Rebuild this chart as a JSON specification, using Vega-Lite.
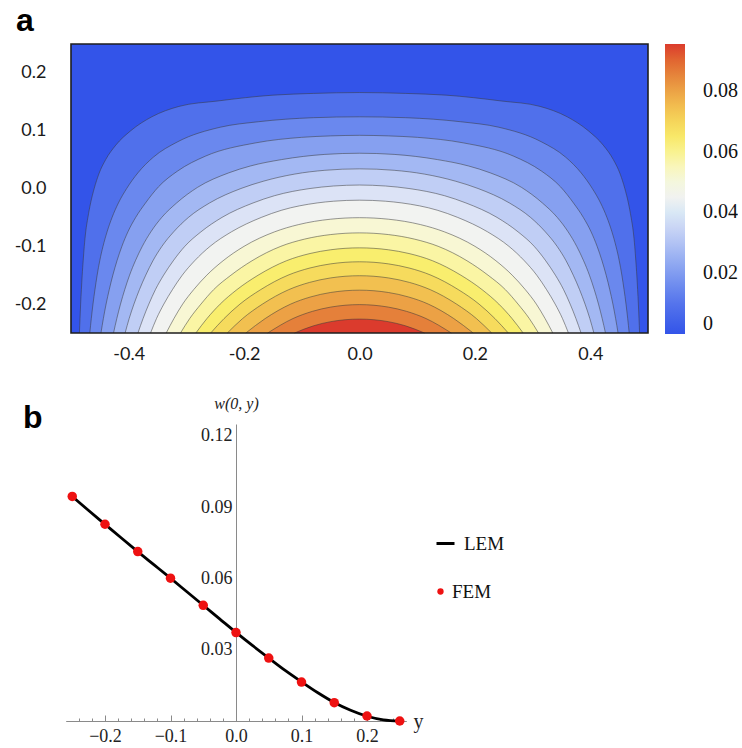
{
"$schema": "https://vega.github.io/schema/vega-lite/v6.json",
"background": "white",
"padding": {"left": 14, "top": 5, "right": 0, "bottom": 0},
"bounds": "flush",
"spacing": 91,
"config": {"view": {"stroke": null}, "axis": {"grid": false}, "legend": {"padding": 0}},
"datasets": {
"contours": [
{"k":1,"x":-0.4854,"y":-0.25},{"k":1,"x":-0.4844,"y":-0.225},{"k":1,"x":-0.4833,"y":-0.2},{"k":1,"x":-0.482,"y":-0.175},{"k":1,"x":-0.4806,"y":-0.15},{"k":1,"x":-0.4789,"y":-0.125},{"k":1,"x":-0.477,"y":-0.1},{"k":1,"x":-0.4745,"y":-0.075},{"k":1,"x":-0.4707,"y":-0.05},{"k":1,"x":-0.466,"y":-0.025},{"k":1,"x":-0.4598,"y":0},{"k":1,"x":-0.4518,"y":0.025},{"k":1,"x":-0.4399,"y":0.05},{"k":1,"x":-0.4224,"y":0.075},{"k":1,"x":-0.3964,"y":0.1},{"k":1,"x":-0.36,"y":0.124},{"k":1,"x":-0.313,"y":0.142},{"k":1,"x":-0.245,"y":0.1515},{"k":1,"x":-0.15,"y":0.1615},{"k":1,"x":-0.08,"y":0.1645},{"k":1,"x":0,"y":0.166},{"k":1,"x":0.08,"y":0.1645},{"k":1,"x":0.15,"y":0.1615},{"k":1,"x":0.245,"y":0.1515},{"k":1,"x":0.313,"y":0.142},{"k":1,"x":0.36,"y":0.124},{"k":1,"x":0.3964,"y":0.1},{"k":1,"x":0.4224,"y":0.075},{"k":1,"x":0.4399,"y":0.05},{"k":1,"x":0.4518,"y":0.025},{"k":1,"x":0.4598,"y":0},{"k":1,"x":0.466,"y":-0.025},{"k":1,"x":0.4707,"y":-0.05},{"k":1,"x":0.4745,"y":-0.075},{"k":1,"x":0.477,"y":-0.1},{"k":1,"x":0.4789,"y":-0.125},{"k":1,"x":0.4806,"y":-0.15},{"k":1,"x":0.482,"y":-0.175},{"k":1,"x":0.4833,"y":-0.2},{"k":1,"x":0.4844,"y":-0.225},{"k":1,"x":0.4854,"y":-0.25},
{"k":2,"x":-0.4674,"y":-0.25},{"k":2,"x":-0.4648,"y":-0.225},{"k":2,"x":-0.4619,"y":-0.2},{"k":2,"x":-0.4585,"y":-0.175},{"k":2,"x":-0.4547,"y":-0.15},{"k":2,"x":-0.4502,"y":-0.125},{"k":2,"x":-0.4445,"y":-0.1},{"k":2,"x":-0.4375,"y":-0.075},{"k":2,"x":-0.4288,"y":-0.05},{"k":2,"x":-0.4178,"y":-0.025},{"k":2,"x":-0.4035,"y":0},{"k":2,"x":-0.3841,"y":0.027},{"k":2,"x":-0.3575,"y":0.054},{"k":2,"x":-0.3148,"y":0.081},{"k":2,"x":-0.2414,"y":0.106},{"k":2,"x":-0.1753,"y":0.1155},{"k":2,"x":-0.08,"y":0.1225},{"k":2,"x":0,"y":0.124},{"k":2,"x":0.08,"y":0.1225},{"k":2,"x":0.1753,"y":0.1155},{"k":2,"x":0.2414,"y":0.106},{"k":2,"x":0.3148,"y":0.081},{"k":2,"x":0.3575,"y":0.054},{"k":2,"x":0.3841,"y":0.027},{"k":2,"x":0.4035,"y":0},{"k":2,"x":0.4178,"y":-0.025},{"k":2,"x":0.4288,"y":-0.05},{"k":2,"x":0.4375,"y":-0.075},{"k":2,"x":0.4445,"y":-0.1},{"k":2,"x":0.4502,"y":-0.125},{"k":2,"x":0.4547,"y":-0.15},{"k":2,"x":0.4585,"y":-0.175},{"k":2,"x":0.4619,"y":-0.2},{"k":2,"x":0.4648,"y":-0.225},{"k":2,"x":0.4674,"y":-0.25},
{"k":3,"x":-0.4481,"y":-0.25},{"k":3,"x":-0.4439,"y":-0.225},{"k":3,"x":-0.4392,"y":-0.2},{"k":3,"x":-0.4337,"y":-0.175},{"k":3,"x":-0.4275,"y":-0.15},{"k":3,"x":-0.4203,"y":-0.125},{"k":3,"x":-0.4118,"y":-0.1},{"k":3,"x":-0.4014,"y":-0.075},{"k":3,"x":-0.3879,"y":-0.05},{"k":3,"x":-0.3708,"y":-0.025},{"k":3,"x":-0.3483,"y":0.003},{"k":3,"x":-0.3156,"y":0.03},{"k":3,"x":-0.267,"y":0.056},{"k":3,"x":-0.1796,"y":0.079},{"k":3,"x":-0.1005,"y":0.0885},{"k":3,"x":-0.05,"y":0.091},{"k":3,"x":0,"y":0.092},{"k":3,"x":0.05,"y":0.091},{"k":3,"x":0.1005,"y":0.0885},{"k":3,"x":0.1796,"y":0.079},{"k":3,"x":0.267,"y":0.056},{"k":3,"x":0.3156,"y":0.03},{"k":3,"x":0.3483,"y":0.003},{"k":3,"x":0.3708,"y":-0.025},{"k":3,"x":0.3879,"y":-0.05},{"k":3,"x":0.4014,"y":-0.075},{"k":3,"x":0.4118,"y":-0.1},{"k":3,"x":0.4203,"y":-0.125},{"k":3,"x":0.4275,"y":-0.15},{"k":3,"x":0.4337,"y":-0.175},{"k":3,"x":0.4392,"y":-0.2},{"k":3,"x":0.4439,"y":-0.225},{"k":3,"x":0.4481,"y":-0.25},
{"k":4,"x":-0.4263,"y":-0.25},{"k":4,"x":-0.4206,"y":-0.225},{"k":4,"x":-0.4142,"y":-0.2},{"k":4,"x":-0.4069,"y":-0.175},{"k":4,"x":-0.3985,"y":-0.15},{"k":4,"x":-0.3884,"y":-0.125},{"k":4,"x":-0.3764,"y":-0.1},{"k":4,"x":-0.3616,"y":-0.075},{"k":4,"x":-0.3427,"y":-0.05},{"k":4,"x":-0.3169,"y":-0.025},{"k":4,"x":-0.2807,"y":0.002},{"k":4,"x":-0.2268,"y":0.027},{"k":4,"x":-0.1889,"y":0.039},{"k":4,"x":-0.1352,"y":0.05},{"k":4,"x":-0.06,"y":0.059},{"k":4,"x":0,"y":0.061},{"k":4,"x":0.06,"y":0.059},{"k":4,"x":0.1352,"y":0.05},{"k":4,"x":0.1889,"y":0.039},{"k":4,"x":0.2268,"y":0.027},{"k":4,"x":0.2807,"y":0.002},{"k":4,"x":0.3169,"y":-0.025},{"k":4,"x":0.3427,"y":-0.05},{"k":4,"x":0.3616,"y":-0.075},{"k":4,"x":0.3764,"y":-0.1},{"k":4,"x":0.3884,"y":-0.125},{"k":4,"x":0.3985,"y":-0.15},{"k":4,"x":0.4069,"y":-0.175},{"k":4,"x":0.4142,"y":-0.2},{"k":4,"x":0.4206,"y":-0.225},{"k":4,"x":0.4263,"y":-0.25},
{"k":5,"x":-0.4062,"y":-0.25},{"k":5,"x":-0.3992,"y":-0.225},{"k":5,"x":-0.3909,"y":-0.2},{"k":5,"x":-0.3814,"y":-0.175},{"k":5,"x":-0.3705,"y":-0.15},{"k":5,"x":-0.358,"y":-0.125},{"k":5,"x":-0.3424,"y":-0.1},{"k":5,"x":-0.3221,"y":-0.075},{"k":5,"x":-0.2964,"y":-0.05},{"k":5,"x":-0.2598,"y":-0.025},{"k":5,"x":-0.2055,"y":0},{"k":5,"x":-0.167,"y":0.0125},{"k":5,"x":-0.1121,"y":0.025},{"k":5,"x":-0.06,"y":0.0315},{"k":5,"x":0,"y":0.034},{"k":5,"x":0.06,"y":0.0315},{"k":5,"x":0.1121,"y":0.025},{"k":5,"x":0.167,"y":0.0125},{"k":5,"x":0.2055,"y":0},{"k":5,"x":0.2598,"y":-0.025},{"k":5,"x":0.2964,"y":-0.05},{"k":5,"x":0.3221,"y":-0.075},{"k":5,"x":0.3424,"y":-0.1},{"k":5,"x":0.358,"y":-0.125},{"k":5,"x":0.3705,"y":-0.15},{"k":5,"x":0.3814,"y":-0.175},{"k":5,"x":0.3909,"y":-0.2},{"k":5,"x":0.3992,"y":-0.225},{"k":5,"x":0.4062,"y":-0.25},
{"k":6,"x":-0.384,"y":-0.25},{"k":6,"x":-0.3751,"y":-0.225},{"k":6,"x":-0.3651,"y":-0.2},{"k":6,"x":-0.3537,"y":-0.175},{"k":6,"x":-0.3395,"y":-0.15},{"k":6,"x":-0.3227,"y":-0.125},{"k":6,"x":-0.3027,"y":-0.1},{"k":6,"x":-0.2748,"y":-0.075},{"k":6,"x":-0.2383,"y":-0.05},{"k":6,"x":-0.1844,"y":-0.025},{"k":6,"x":-0.1475,"y":-0.0125},{"k":6,"x":-0.0857,"y":0},{"k":6,"x":-0.045,"y":0.0043},{"k":6,"x":0,"y":0.006},{"k":6,"x":0.045,"y":0.0043},{"k":6,"x":0.0857,"y":0},{"k":6,"x":0.1475,"y":-0.0125},{"k":6,"x":0.1844,"y":-0.025},{"k":6,"x":0.2383,"y":-0.05},{"k":6,"x":0.2748,"y":-0.075},{"k":6,"x":0.3027,"y":-0.1},{"k":6,"x":0.3227,"y":-0.125},{"k":6,"x":0.3395,"y":-0.15},{"k":6,"x":0.3537,"y":-0.175},{"k":6,"x":0.3651,"y":-0.2},{"k":6,"x":0.3751,"y":-0.225},{"k":6,"x":0.384,"y":-0.25},
{"k":7,"x":-0.3621,"y":-0.25},{"k":7,"x":-0.3518,"y":-0.225},{"k":7,"x":-0.3391,"y":-0.2},{"k":7,"x":-0.3242,"y":-0.175},{"k":7,"x":-0.3072,"y":-0.15},{"k":7,"x":-0.2857,"y":-0.125},{"k":7,"x":-0.2589,"y":-0.1},{"k":7,"x":-0.222,"y":-0.075},{"k":7,"x":-0.1701,"y":-0.05},{"k":7,"x":-0.1347,"y":-0.0375},{"k":7,"x":-0.0734,"y":-0.025},{"k":7,"x":-0.045,"y":-0.022},{"k":7,"x":0,"y":-0.0202},{"k":7,"x":0.045,"y":-0.022},{"k":7,"x":0.0734,"y":-0.025},{"k":7,"x":0.1347,"y":-0.0375},{"k":7,"x":0.1701,"y":-0.05},{"k":7,"x":0.222,"y":-0.075},{"k":7,"x":0.2589,"y":-0.1},{"k":7,"x":0.2857,"y":-0.125},{"k":7,"x":0.3072,"y":-0.15},{"k":7,"x":0.3242,"y":-0.175},{"k":7,"x":0.3391,"y":-0.2},{"k":7,"x":0.3518,"y":-0.225},{"k":7,"x":0.3621,"y":-0.25},
{"k":8,"x":-0.335,"y":-0.25},{"k":8,"x":-0.3216,"y":-0.225},{"k":8,"x":-0.3065,"y":-0.2},{"k":8,"x":-0.2874,"y":-0.175},{"k":8,"x":-0.2647,"y":-0.15},{"k":8,"x":-0.2364,"y":-0.125},{"k":8,"x":-0.2,"y":-0.1},{"k":8,"x":-0.1472,"y":-0.075},{"k":8,"x":-0.1059,"y":-0.0625},{"k":8,"x":-0.05,"y":-0.0531},{"k":8,"x":0,"y":-0.0505},{"k":8,"x":0.05,"y":-0.0531},{"k":8,"x":0.1059,"y":-0.0625},{"k":8,"x":0.1472,"y":-0.075},{"k":8,"x":0.2,"y":-0.1},{"k":8,"x":0.2364,"y":-0.125},{"k":8,"x":0.2647,"y":-0.15},{"k":8,"x":0.2874,"y":-0.175},{"k":8,"x":0.3065,"y":-0.2},{"k":8,"x":0.3216,"y":-0.225},{"k":8,"x":0.335,"y":-0.25},
{"k":9,"x":-0.3102,"y":-0.25},{"k":9,"x":-0.2943,"y":-0.225},{"k":9,"x":-0.2748,"y":-0.2},{"k":9,"x":-0.2528,"y":-0.175},{"k":9,"x":-0.2228,"y":-0.15},{"k":9,"x":-0.1863,"y":-0.125},{"k":9,"x":-0.1363,"y":-0.1},{"k":9,"x":-0.0949,"y":-0.0875},{"k":9,"x":-0.05,"y":-0.0797},{"k":9,"x":0,"y":-0.0768},{"k":9,"x":0.05,"y":-0.0797},{"k":9,"x":0.0949,"y":-0.0875},{"k":9,"x":0.1363,"y":-0.1},{"k":9,"x":0.1863,"y":-0.125},{"k":9,"x":0.2228,"y":-0.15},{"k":9,"x":0.2528,"y":-0.175},{"k":9,"x":0.2748,"y":-0.2},{"k":9,"x":0.2943,"y":-0.225},{"k":9,"x":0.3102,"y":-0.25},
{"k":10,"x":-0.2836,"y":-0.25},{"k":10,"x":-0.2644,"y":-0.225},{"k":10,"x":-0.2415,"y":-0.2},{"k":10,"x":-0.2125,"y":-0.175},{"k":10,"x":-0.1757,"y":-0.15},{"k":10,"x":-0.1266,"y":-0.125},{"k":10,"x":-0.0858,"y":-0.1125},{"k":10,"x":-0.05,"y":-0.106},{"k":10,"x":0,"y":-0.1027},{"k":10,"x":0.05,"y":-0.106},{"k":10,"x":0.0858,"y":-0.1125},{"k":10,"x":0.1266,"y":-0.125},{"k":10,"x":0.1757,"y":-0.15},{"k":10,"x":0.2125,"y":-0.175},{"k":10,"x":0.2415,"y":-0.2},{"k":10,"x":0.2644,"y":-0.225},{"k":10,"x":0.2836,"y":-0.25},
{"k":11,"x":-0.2579,"y":-0.25},{"k":11,"x":-0.2347,"y":-0.225},{"k":11,"x":-0.2072,"y":-0.2},{"k":11,"x":-0.1713,"y":-0.175},{"k":11,"x":-0.1239,"y":-0.15},{"k":11,"x":-0.0858,"y":-0.1375},{"k":11,"x":-0.05,"y":-0.1304},{"k":11,"x":0,"y":-0.1268},{"k":11,"x":0.05,"y":-0.1304},{"k":11,"x":0.0858,"y":-0.1375},{"k":11,"x":0.1239,"y":-0.15},{"k":11,"x":0.1713,"y":-0.175},{"k":11,"x":0.2072,"y":-0.2},{"k":11,"x":0.2347,"y":-0.225},{"k":11,"x":0.2579,"y":-0.25},
{"k":12,"x":-0.2291,"y":-0.25},{"k":12,"x":-0.2026,"y":-0.225},{"k":12,"x":-0.1682,"y":-0.2},{"k":12,"x":-0.1226,"y":-0.175},{"k":12,"x":-0.0867,"y":-0.1625},{"k":12,"x":-0.05,"y":-0.1547},{"k":12,"x":0,"y":-0.1509},{"k":12,"x":0.05,"y":-0.1547},{"k":12,"x":0.0867,"y":-0.1625},{"k":12,"x":0.1226,"y":-0.175},{"k":12,"x":0.1682,"y":-0.2},{"k":12,"x":0.2026,"y":-0.225},{"k":12,"x":0.2291,"y":-0.25},
{"k":13,"x":-0.197,"y":-0.25},{"k":13,"x":-0.1634,"y":-0.225},{"k":13,"x":-0.1193,"y":-0.2},{"k":13,"x":-0.0844,"y":-0.1875},{"k":13,"x":-0.05,"y":-0.1799},{"k":13,"x":0,"y":-0.1759},{"k":13,"x":0.05,"y":-0.1799},{"k":13,"x":0.0844,"y":-0.1875},{"k":13,"x":0.1193,"y":-0.2},{"k":13,"x":0.1634,"y":-0.225},{"k":13,"x":0.197,"y":-0.25},
{"k":14,"x":-0.1591,"y":-0.25},{"k":14,"x":-0.1153,"y":-0.225},{"k":14,"x":-0.0814,"y":-0.2125},{"k":14,"x":-0.05,"y":-0.2052},{"k":14,"x":0,"y":-0.2009},{"k":14,"x":0.05,"y":-0.2052},{"k":14,"x":0.0814,"y":-0.2125},{"k":14,"x":0.1153,"y":-0.225},{"k":14,"x":0.1591,"y":-0.25},
{"k":15,"x":-0.1127,"y":-0.25},{"k":15,"x":-0.0795,"y":-0.2375},{"k":15,"x":-0.05,"y":-0.2304},{"k":15,"x":0,"y":-0.2259},{"k":15,"x":0.05,"y":-0.2304},{"k":15,"x":0.0795,"y":-0.2375},{"k":15,"x":0.1127,"y":-0.25}
],
"lem": [
{"y":-0.25,"w":0.0945,"s":"LEM"},{"y":-0.225,"w":0.0886,"s":"LEM"},{"y":-0.2,"w":0.0828,"s":"LEM"},{"y":-0.175,"w":0.077,"s":"LEM"},{"y":-0.15,"w":0.0713,"s":"LEM"},{"y":-0.125,"w":0.0657,"s":"LEM"},{"y":-0.1,"w":0.0601,"s":"LEM"},{"y":-0.075,"w":0.0544,"s":"LEM"},{"y":-0.05,"w":0.0487,"s":"LEM"},{"y":-0.025,"w":0.043,"s":"LEM"},{"y":0,"w":0.0373,"s":"LEM"},{"y":0.025,"w":0.0318,"s":"LEM"},{"y":0.05,"w":0.0265,"s":"LEM"},{"y":0.075,"w":0.0213,"s":"LEM"},{"y":0.1,"w":0.0165,"s":"LEM"},{"y":0.125,"w":0.0119,"s":"LEM"},{"y":0.15,"w":0.0078,"s":"LEM"},{"y":0.175,"w":0.0045,"s":"LEM"},{"y":0.2,"w":0.002,"s":"LEM"},{"y":0.225,"w":0.0005,"s":"LEM"},{"y":0.25,"w":0,"s":"LEM"}
],
"fem": [
{"y":-0.25,"w":0.0945,"s":"FEM"},{"y":-0.2,"w":0.0828,"s":"FEM"},{"y":-0.15,"w":0.0713,"s":"FEM"},{"y":-0.1,"w":0.0601,"s":"FEM"},{"y":-0.05,"w":0.0487,"s":"FEM"},{"y":0,"w":0.0372,"s":"FEM"},{"y":0.05,"w":0.0265,"s":"FEM"},{"y":0.1,"w":0.0164,"s":"FEM"},{"y":0.15,"w":0.0077,"s":"FEM"},{"y":0.2,"w":0.0021,"s":"FEM"},{"y":0.25,"w":0,"s":"FEM"}
]
},
"vconcat": [
{
"width": 577,
"height": 289,
"title": {"text": "a", "anchor": "start", "frame": "group", "offset": -20, "dx": -55, "baseline": "alphabetic", "font": "Liberation Sans", "fontSize": 32, "fontWeight": "bold", "color": "#000000"},
"resolve": {"scale": {"color": "independent"}, "legend": {"color": "independent"}},
"layer": [
{
"data": {"values": [{}]},
"mark": {"type": "rect", "fill": "#3354E9"},
"encoding": {
"x": {"datum": -0.5, "type": "quantitative", "scale": {"domain": [-0.5, 0.5], "nice": false, "zero": false},
"axis": {"values": [-0.4, -0.2, 0, 0.2, 0.4], "labelExpr": "(datum.value < 0 ? '-' : '') + format(abs(datum.value), '.1f')", "domain": false, "ticks": false, "labelFont": "Lato", "labelFontSize": 18, "labelColor": "#1a1a1a", "labelPadding": 12, "title": null}},
"x2": {"datum": 0.5},
"y": {"datum": -0.25, "type": "quantitative", "scale": {"domain": [-0.25, 0.25], "nice": false, "zero": false},
"axis": {"values": [-0.2, -0.1, 0, 0.1, 0.2], "labelExpr": "(datum.value < 0 ? '-' : '') + format(abs(datum.value), '.1f')", "domain": false, "ticks": false, "labelFont": "Lato", "labelFontSize": 18, "labelColor": "#1a1a1a", "labelPadding": 25, "title": null}},
"y2": {"datum": 0.25}
}
},
{
"data": {"name": "contours"},
"mark": {"type": "area", "interpolate": "monotone"},
"encoding": {
"x": {"field": "x", "type": "quantitative"},
"y": {"field": "y", "type": "quantitative", "stack": null},
"y2": {"datum": -0.25},
"color": {"field": "k", "type": "ordinal", "legend": null,
"scale": {"domain": [1,2,3,4,5,6,7,8,9,10,11,12,13,14,15],
"range": ["#5070EB","#6A88EE","#86A0F0","#A3B8F3","#C0CEF5","#DCE3F6","#F2F3F1","#F8F7D4","#FAF5A4","#F9EE6E","#F6DB5D","#F2C050","#ECA145","#E5803A","#DB3B2D"]}}
}
},
{
"data": {"name": "contours"},
"mark": {"type": "line", "interpolate": "monotone", "stroke": "#3a3a3a", "strokeWidth": 0.8, "strokeOpacity": 0.65},
"encoding": {
"x": {"field": "x", "type": "quantitative"},
"y": {"field": "y", "type": "quantitative"},
"detail": {"field": "k", "type": "ordinal"}
}
},
{
"data": {"values": [{}]},
"mark": {"type": "rect", "filled": false, "stroke": "#1e1e1e", "strokeWidth": 1.6},
"encoding": {
"x": {"datum": -0.5, "type": "quantitative"},
"x2": {"datum": 0.5},
"y": {"datum": -0.25, "type": "quantitative"},
"y2": {"datum": 0.25}
}
},
{
"data": {"values": [{"w": 0}, {"w": 0.0954}]},
"mark": {"type": "circle", "opacity": 0},
"encoding": {
"color": {"field": "w", "type": "quantitative",
"scale": {"domain": [0, 0.0089, 0.015, 0.0211, 0.027, 0.033, 0.039, 0.0453, 0.0518, 0.0578, 0.0634, 0.0688, 0.0744, 0.0801, 0.0859, 0.0954],
"range": ["#3354E9","#5070EB","#6A88EE","#86A0F0","#A3B8F3","#C0CEF5","#DCE3F6","#F2F3F1","#F8F7D4","#FAF5A4","#F9EE6E","#F6DB5D","#F2C050","#ECA145","#E5803A","#DB3B2D"]},
"legend": {"orient": "none", "legendX": 594, "legendY": 0, "direction": "vertical", "gradientLength": 290, "gradientThickness": 20, "gradientStrokeWidth": 0, "title": null, "values": [0, 0.02, 0.04, 0.06, 0.08], "labelExpr": "datum.value == 0 ? '0' : format(datum.value, '.2f')", "labelFont": "Liberation Serif", "labelFontSize": 20, "labelColor": "#111111", "labelOffset": 18, "labelFlush": false, "labelOverlap": false}}
}
}
]
},
{
"width": 336,
"height": 297,
"title": {"text": "b", "anchor": "start", "frame": "group", "offset": -65, "dx": -48, "baseline": "alphabetic", "font": "Liberation Sans", "fontSize": 32, "fontWeight": "bold", "color": "#000000"},
"resolve": {"axis": {"x": "independent"}},
"layer": [
{
"data": {"name": "lem"},
"mark": {"type": "line", "interpolate": "monotone", "strokeWidth": 2.8},
"encoding": {
"x": {"field": "y", "type": "quantitative", "scale": {"domain": [-0.26, 0.26], "range": [-5.3, 335.3], "nice": false, "zero": false},
"axis": {"orient": "bottom", "values": [-0.2, -0.1, 0, 0.1, 0.2], "format": ".1f",
"domainColor": "#8a8a8a", "domainWidth": 1, "tickColor": "#8a8a8a", "tickSize": -6, "tickWidth": 1,
"labelFont": "Liberation Serif", "labelFontSize": 18, "labelColor": "#222222", "labelPadding": 12, "labelFlush": false, "labelOverlap": false,
"title": "y", "titleX": 347, "titleY": 0, "titleAlign": "center", "titleBaseline": "middle", "titleFont": "Liberation Serif", "titleFontSize": 20, "titleFontWeight": "normal", "titleColor": "#222222"}},
"y": {"field": "w", "type": "quantitative", "scale": {"domain": [0, 0.125], "nice": false, "zero": false},
"axis": {"orient": "left", "offset": -165, "values": [0.03, 0.06, 0.09, 0.12], "format": ".2f",
"domainColor": "#8a8a8a", "domainWidth": 1, "ticks": false,
"labelFont": "Liberation Serif", "labelFontSize": 18, "labelColor": "#222222", "labelPadding": 4, "labelFlush": false,
"title": "w(0, y)", "titleAngle": 0, "titleX": 0, "titleY": -21, "titleAlign": "center", "titleBaseline": "middle", "titleFont": "Liberation Serif", "titleFontStyle": "italic", "titleFontWeight": "normal", "titleFontSize": 16, "titleColor": "#222222"}},
"stroke": {"field": "s", "type": "nominal", "scale": {"domain": ["LEM"], "range": ["#000000"]},
"legend": {"orient": "none", "legendX": 364, "legendY": 489, "title": null, "symbolType": "stroke", "symbolSize": 324, "symbolStrokeWidth": 3, "labelFont": "Liberation Serif", "labelFontSize": 19, "labelColor": "#111111", "labelOffset": 8}}
}
},
{
"data": {"name": "fem"},
"mark": {"type": "circle", "size": 90, "opacity": 1},
"encoding": {
"x": {"field": "y", "type": "quantitative",
"axis": {"orient": "bottom", "values": [-0.24,-0.22,-0.18,-0.16,-0.14,-0.12,-0.08,-0.06,-0.04,-0.02,0.02,0.04,0.06,0.08,0.12,0.14,0.16,0.18,0.22,0.24],
"domain": false, "labels": false, "tickColor": "#8a8a8a", "tickSize": -3, "tickWidth": 1, "title": null}},
"y": {"field": "w", "type": "quantitative"},
"fill": {"field": "s", "type": "nominal", "scale": {"domain": ["FEM"], "range": ["#EE1111"]},
"legend": {"orient": "none", "legendX": 360, "legendY": 538, "title": null, "symbolType": "circle", "symbolSize": 40, "labelFont": "Liberation Serif", "labelFontSize": 19, "labelColor": "#111111", "labelOffset": 2}}
}
}
]
}
]
}
